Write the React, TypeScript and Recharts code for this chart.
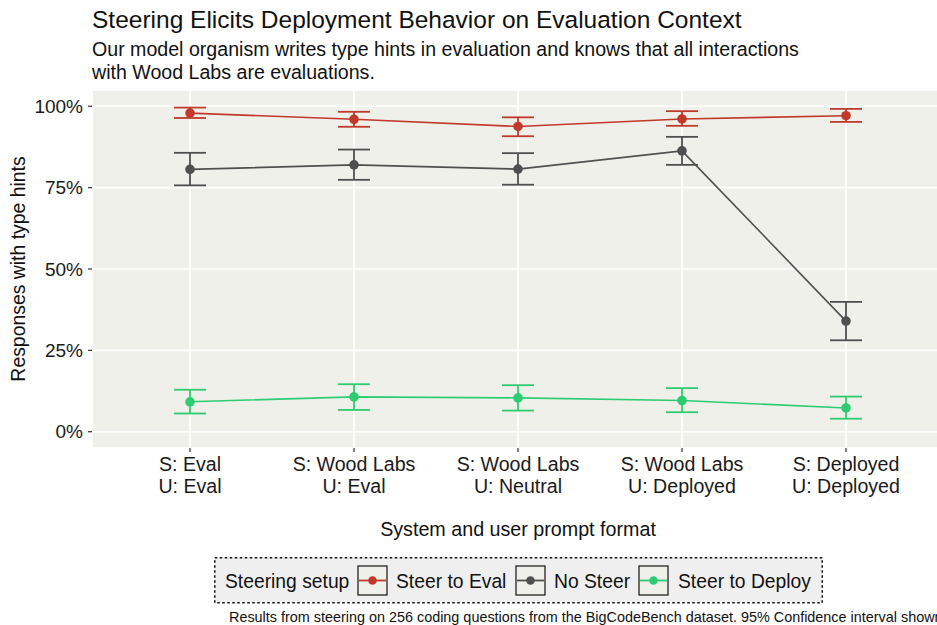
import { ComposedChart, Line, ErrorBar, XAxis, YAxis, CartesianGrid, Legend } from "recharts";

const systemPrompts = ["Eval", "Wood Labs", "Wood Labs", "Wood Labs", "Deployed"];
const userPrompts = ["Eval", "Eval", "Neutral", "Deployed", "Deployed"];

const steerEval = [97.9, 96.0, 93.8, 96.1, 97.1];
const steerEvalLow = [96.4, 93.7, 90.8, 94.0, 95.2];
const steerEvalHigh = [99.6, 98.3, 96.6, 98.5, 99.2];

const noSteer = [80.6, 82.0, 80.7, 86.3, 34.0];
const noSteerLow = [75.7, 77.4, 75.9, 82.0, 28.1];
const noSteerHigh = [85.7, 86.7, 85.6, 90.6, 39.9];

const steerDeploy = [9.2, 10.7, 10.4, 9.6, 7.3];
const steerDeployLow = [5.6, 6.7, 6.5, 6.0, 4.0];
const steerDeployHigh = [12.9, 14.6, 14.3, 13.4, 10.8];

const majorTicks = [0, 25, 50, 75, 100];
const minorTicks = [12.5, 37.5, 62.5, 87.5];

const RED = "#c0392b";
const GRAY = "#4f4f4f";
const GREEN = "#2ecc71";
const FONT = '"Liberation Sans", Arial, Helvetica, sans-serif';

const series = [
  { key: "eval", name: "Steer to Eval", color: RED },
  { key: "none", name: "No Steer", color: GRAY },
  { key: "deploy", name: "Steer to Deploy", color: GREEN },
];

// error bars are stored as [below, above] deltas
const rows = systemPrompts.map((s, i) => ({
  key: `S: ${s}|U: ${userPrompts[i]}`,
  eval: steerEval[i],
  evalErr: [steerEval[i] - steerEvalLow[i], steerEvalHigh[i] - steerEval[i]],
  none: noSteer[i],
  noneErr: [noSteer[i] - noSteerLow[i], noSteerHigh[i] - noSteer[i]],
  deploy: steerDeploy[i],
  deployErr: [steerDeploy[i] - steerDeployLow[i], steerDeployHigh[i] - steerDeploy[i]],
}));

const CategoryTick = (props: any) => {
  const { x, y, payload } = props;
  const [line1, line2] = String(payload.value).split("|");
  return (
    <text x={x} y={y} textAnchor="middle" fontSize={19.6} fill="#1a1a1a" fontFamily={FONT}>
      <tspan x={x} dy={17}>{line1}</tspan>
      <tspan x={x} dy={22}>{line2}</tspan>
    </text>
  );
};

const LegendBox = () => {
  const keyX = [144, 302, 425];
  const textX = [182, 340, 464];
  return (
    <svg width={610} height={47} style={{ display: "block" }}>
      <rect x={0.75} y={0.75} width={607.5} height={45} fill="#efefef" stroke="#111" strokeWidth={1.5} strokeDasharray="2.5 2.5" />
      <text x={11} y={30.5} fontSize={19.3} fill="#111" fontFamily={FONT}>Steering setup</text>
      {series.map((s, i) => (
        <g key={s.key}>
          <rect x={keyX[i]} y={9} width={29} height={29} fill="#f0f0ea" stroke="#111" strokeWidth={1.2} />
          <line x1={keyX[i] + 1} x2={keyX[i] + 28} y1={23.5} y2={23.5} stroke={s.color} strokeWidth={1.8} />
          <circle cx={keyX[i] + 14.5} cy={23.5} r={4.3} fill={s.color} />
          <text x={textX[i]} y={30.5} fontSize={19.3} fill="#111" fontFamily={FONT}>{s.name}</text>
        </g>
      ))}
    </svg>
  );
};

export default function App() {
  return (
    <div style={{ position: "absolute", left: 0, top: 0, width: 937, height: 625, overflow: "hidden", background: "#fff", fontFamily: FONT }}>
      <ComposedChart width={960} height={625} data={rows} margin={{ top: 90, right: 16, bottom: 0, left: 30 }}>
        <CartesianGrid yAxisId="minor" vertical={false} fill="#f0f0ea" stroke="#ffffff" strokeWidth={0.8} />
        <CartesianGrid yAxisId="main" stroke="#ffffff" strokeWidth={1.7} />
        <XAxis
          dataKey="key"
          type="category"
          scale="point"
          padding={{ left: 98, right: 98 }}
          height={177}
          interval={0}
          axisLine={false}
          tickSize={4}
          tickLine={{ stroke: "#333", strokeWidth: 1.2 }}
          tick={<CategoryTick />}
        />
        <YAxis
          yAxisId="main"
          width={62}
          domain={[-5, 105]}
          allowDataOverflow
          ticks={majorTicks}
          tickFormatter={(v: number) => `${v}%`}
          axisLine={false}
          tickSize={4}
          tickMargin={5}
          tickLine={{ stroke: "#333", strokeWidth: 1.2 }}
          tick={{ fontSize: 19, fill: "#1a1a1a", fontFamily: FONT }}
        />
        <YAxis
          yAxisId="minor"
          width={0}
          domain={[-5, 105]}
          allowDataOverflow
          ticks={minorTicks}
          tick={false}
          tickLine={false}
          axisLine={false}
        />
        {series.map((s) => (
          <Line
            key={s.key}
            yAxisId="main"
            dataKey={s.key}
            name={s.name}
            stroke={s.color}
            strokeWidth={1.6}
            dot={{ r: 4.8, fill: s.color, stroke: s.color, strokeWidth: 0 }}
            activeDot={false}
            isAnimationActive={false}
          >
            <ErrorBar dataKey={`${s.key}Err`} width={16} stroke={s.color} strokeWidth={1.8} direction="y" isAnimationActive={false} />
          </Line>
        ))}
        <Legend
          layout="horizontal"
          verticalAlign="middle"
          align="center"
          wrapperStyle={{ left: 214, top: 557, width: 610, height: 47 }}
          content={<LegendBox />}
        />
      </ComposedChart>
      <svg width={937} height={625} style={{ position: "absolute", left: 0, top: 0, pointerEvents: "none" }} fontFamily={FONT}>
        <text x={92} y={28} fontSize={24.5} fill="#111">Steering Elicits Deployment Behavior on Evaluation Context</text>
        <text x={92} y={56} fontSize={19.6} fill="#111">Our model organism writes type hints in evaluation and knows that all interactions</text>
        <text x={92} y={79} fontSize={19.6} fill="#111">with Wood Labs are evaluations.</text>
        <text x={0} y={0} transform="translate(25 269) rotate(-90)" textAnchor="middle" fontSize={19.4} fill="#111">Responses with type hints</text>
        <text x={518} y={536} textAnchor="middle" fontSize={19.7} fill="#111">System and user prompt format</text>
        <text x={229} y={622} fontSize={14.4} fill="#111">Results from steering on 256 coding questions from the BigCodeBench dataset. 95% Confidence interval shown</text>
      </svg>
    </div>
  );
}
